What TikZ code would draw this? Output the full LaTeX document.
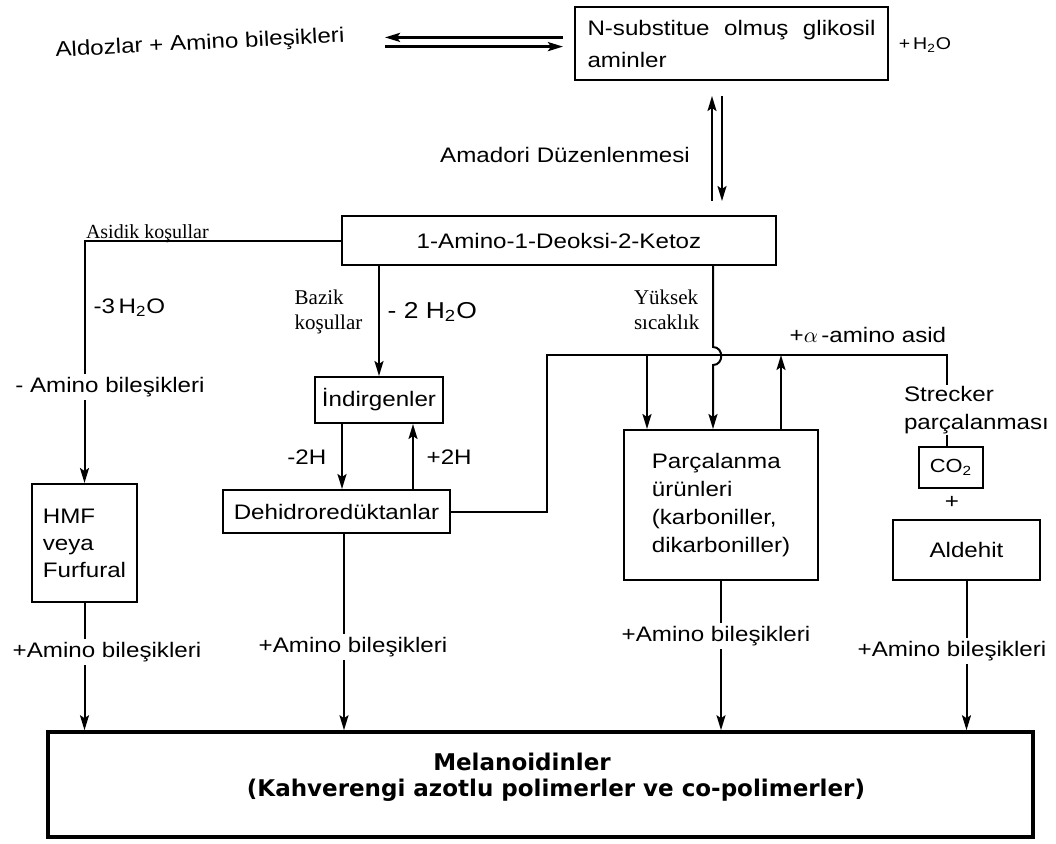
\documentclass[tikz,border=0pt]{standalone}
\usepackage{fontspec}
\setmainfont{Liberation Sans}[FakeStretch=1.15]
\newfontfamily\timesfont{Liberation Serif}
\newfontfamily\kalinfont{DejaVu Sans}
\usetikzlibrary{arrows.meta}

\tikzset{
  kutu/.style={draw, line width=1pt, inner sep=0pt},
  etiket/.style={fill=white, inner sep=1.5pt},
  serifyazi/.style={font={\timesfont\fontsize{10.5}{12.5}\selectfont}},
  kalinyazi/.style={font={\kalinfont\bfseries\fontsize{11.5}{13}\selectfont}},
}

\begin{document}
\begin{tikzpicture}[x=0.5pt,y=-0.5pt, line width=1pt,
  >={Stealth[length=7.5pt,width=4.5pt,inset=1.5pt]},
  font=\fontsize{10.5}{14}\selectfont]
\useasboundingbox (0,0) rectangle (1056,843);

% ust satir
\node (aldo) [rotate=3] at (200,44) {Aldozlar + Amino bileşikleri};
\node (glik) [kutu, minimum width=156.5pt, minimum height=36.5pt, text width=144pt, align=left,
  font=\fontsize{10.5}{16}\selectfont] at (731.5,43.5) {N-substitue\hfill olmuş\hfill glikosil\\aminler};
\node (h2o) [font=\fontsize{8.5}{10}\selectfont] at (925,45) {+\,H\textsubscript{2}O};

\coordinate (denkL) at (385,42);
\coordinate (denkR) at (563,42);
\draw[->, line width=1.3pt] ([yshift=2.3pt]denkR) -- ([yshift=2.3pt]denkL);
\draw[->, line width=1.3pt] ([yshift=-2.3pt]denkL) -- ([yshift=-2.3pt]denkR);

% Amadori
\coordinate (amaT) at (717,96);
\coordinate (amaB) at (717,201);
\draw[->] ([xshift=-2.5pt]amaB) -- ([xshift=-2.5pt]amaT);
\draw[->] ([xshift=2.5pt]amaT) -- ([xshift=2.5pt]amaB);
\node (amadori) at (565,155) {Amadori Düzenlenmesi};

\node (keto) [kutu, minimum width=217pt, minimum height=24.5pt] at (559,240.5) {1-Amino-1-Deoksi-2-Ketoz};

% asidik kol
\node (hmf) [kutu, minimum width=52.5pt, minimum height=59pt, align=left,
  font=\fontsize{10.5}{13.5}\selectfont] at (84.5,543) {HMF\\veya\\Furfural};
\draw[->] (keto.west) -| (hmf.north);
\node (asidik) [anchor=base west, inner sep=0pt, font={\timesfont\fontsize{10}{12}\selectfont}] at (85,238) {Asidik koşullar};
\node (ucsu) [anchor=west] at (86,308) {-3\,H\textsubscript{2}O};
\node (eksiamino) [etiket] at (110,387) {- Amino bileşikleri};

% bazik kol
\node (ind) [kutu, minimum width=64pt, minimum height=23pt] at (379,400) {İndirgenler};
\draw[->] (ind.north |- keto.south) -- (ind.north);
\node (bazik) [anchor=east, align=left, serifyazi] at (370,312) {Bazik\\koşullar};
\node (ikisu) [anchor=west, font=\fontsize{11.5}{14}\selectfont] at (380,312) {- 2 H\textsubscript{2}O};

\node (deh) [kutu, minimum width=113.5pt, minimum height=21.5pt] at (336.5,511.5) {Dehidroredüktanlar};
\draw[->] (342,0 |- ind.south) -- (342,0 |- deh.north);
\draw[->] (413,0 |- deh.north) -- (413,0 |- ind.south);
\node (eksi2h) [anchor=east] at (334,457) {-2H};
\node (arti2h) [anchor=west] at (419,457) {+2H};

% Strecker
\node (strecker) [anchor=north west, align=left, inner sep=0pt] at (903,385) {Strecker\\parçalanması};
\node (co2) [kutu, minimum width=32pt, minimum height=20.5pt, font=\fontsize{9.5}{11}\selectfont] at (951,467.5) {CO\textsubscript{2}};
\node (arti) at (952,502) {+};
\node (aldehit) [kutu, minimum width=73.5pt, minimum height=30pt] at (966.5,550) {Aldehit};

\coordinate (donguL) at (547,355);
\coordinate (donguR) at (947,355);
\draw (deh.east) -| (donguL) -- (donguR) -- (strecker.north -| donguR);
\draw (947,0 |- strecker.south) -- (947,0 |- co2.north);

% parcalanma
\node (parc) [kutu, minimum width=97pt, minimum height=75pt, align=left] at (721,505)
  {Parçalanma\\ürünleri\\(karboniller,\\dikarboniller)};
\draw[->] (647,0 |- donguL) -- (647,0 |- parc.north);
\draw[->] (713,0 |- keto.south) -- (713,347) .. controls (724,347) and (724,365) .. (713,365) -- (713,0 |- parc.north);
\draw[->] (781,0 |- parc.north) -- (781,0 |- donguL);
\node (yuksek) [anchor=east, align=left, serifyazi] at (707,310) {Yüksek\\sıcaklık};
\node (alfa) [anchor=base west] at (782,342) {+$\alpha$\,-amino asid};

% melanoidinler
\node (mel) [draw, line width=1.8pt, minimum width=492.5pt, minimum height=52.5pt] at (540.5,784.5) {};
\node (melad) [kalinyazi] at (522,762) {Melanoidinler};
\node (melacik) [kalinyazi] at (556,790) {(Kahverengi azotlu polimerler ve co-polimerler)};

\draw[->] (hmf.south) -- (hmf.south |- mel.north);
\node (hmfamino) [etiket] at (107,652) {+Amino bileşikleri};
\draw[->] (344,0 |- deh.south) -- (344,0 |- mel.north);
\node (dehamino) [etiket] at (353,647) {+Amino bileşikleri};
\draw[->] (parc.south) -- (parc.south |- mel.north);
\node (parcamino) [etiket] at (716,636) {+Amino bileşikleri};
\draw[->] (aldehit.south) -- (aldehit.south |- mel.north);
\node (aldamino) [etiket] at (952,651) {+Amino bileşikleri};

\end{tikzpicture}
\end{document}
